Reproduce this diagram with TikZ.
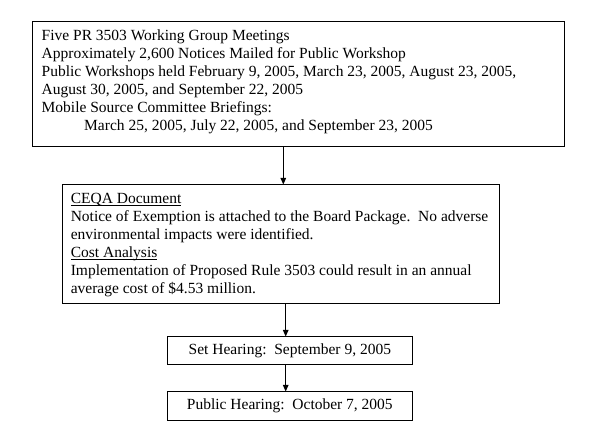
\documentclass[tikz,border=0pt]{standalone}
\usepackage{fontspec}
\setmainfont{Liberation Serif}
\usetikzlibrary{arrows.meta}
\newcommand{\ulx}[1]{\setbox0\hbox{#1}\rlap{\rule[-2.4pt]{\wd0}{0.9pt}}\box0}
\begin{document}
\begin{tikzpicture}[x=1pt,y=-1pt,
  box/.style={draw=black,line width=1pt,inner sep=0pt},
  txt/.style={anchor=north west,inner sep=0pt,align=left,font=\fontsize{15.5}{18}\selectfont},
  ctxt/.style={inner sep=0pt,font=\fontsize{15.5}{18}\selectfont},
  arr/.style={line width=1pt,-{Triangle[width=5.5pt,length=6.5pt]}}]
\useasboundingbox (0,0) rectangle (598,435);
\fill[white] (0,0) rectangle (598,435);
% boxes
\node[box,minimum width=531.6pt,minimum height=125pt] (b1) at (298.5,84.5) {};
\node[box,minimum width=437.3pt,minimum height=118.3pt] (b2) at (280.65,244.15) {};
\node[box,minimum width=245.7pt,minimum height=28pt] (b3) at (289.85,351) {};
\node[box,minimum width=245.7pt,minimum height=28.5pt] (b4) at (289.85,406.25) {};
% texts
\node[txt] (t1) at (41.5,29.5) {Five PR 3503 Working Group Meetings\\
Approximately 2,600 Notices Mailed for Public Workshop\\
Public Workshops held February 9, 2005, March 23, 2005, August 23, 2005,\\
August 30, 2005, and September 22, 2005\\
Mobile Source Committee Briefings:\\
\hspace*{42.5pt}March 25, 2005, July 22, 2005, and September 23, 2005};
\node[txt] (t2) at (70.6,193.5) {\ulx{CEQA Document}\\
Notice of Exemption is attached to the Board Package.\ \ No adverse\\
environmental impacts were identified.\\
\ulx{Cost Analysis}\\
Implementation of Proposed Rule 3503 could result in an annual\\
average cost of \$4.53 million.};
\node[ctxt] (t3) at (b3) {Set Hearing:\ \ September 9, 2005};
\node[ctxt] (t4) at (b4) {Public Hearing:\ \ October 7, 2005};
% arrows
\coordinate (a1) at (283.3,0);
\coordinate (a2) at (285.7,0);
\draw[arr] (b1.south -| a1) -- (b2.north -| a1);
\draw[arr] (b2.south -| a2) -- (b3.north -| a2);
\draw[arr] (b3.south -| a2) -- (b4.north -| a2);
\end{tikzpicture}
\end{document}
